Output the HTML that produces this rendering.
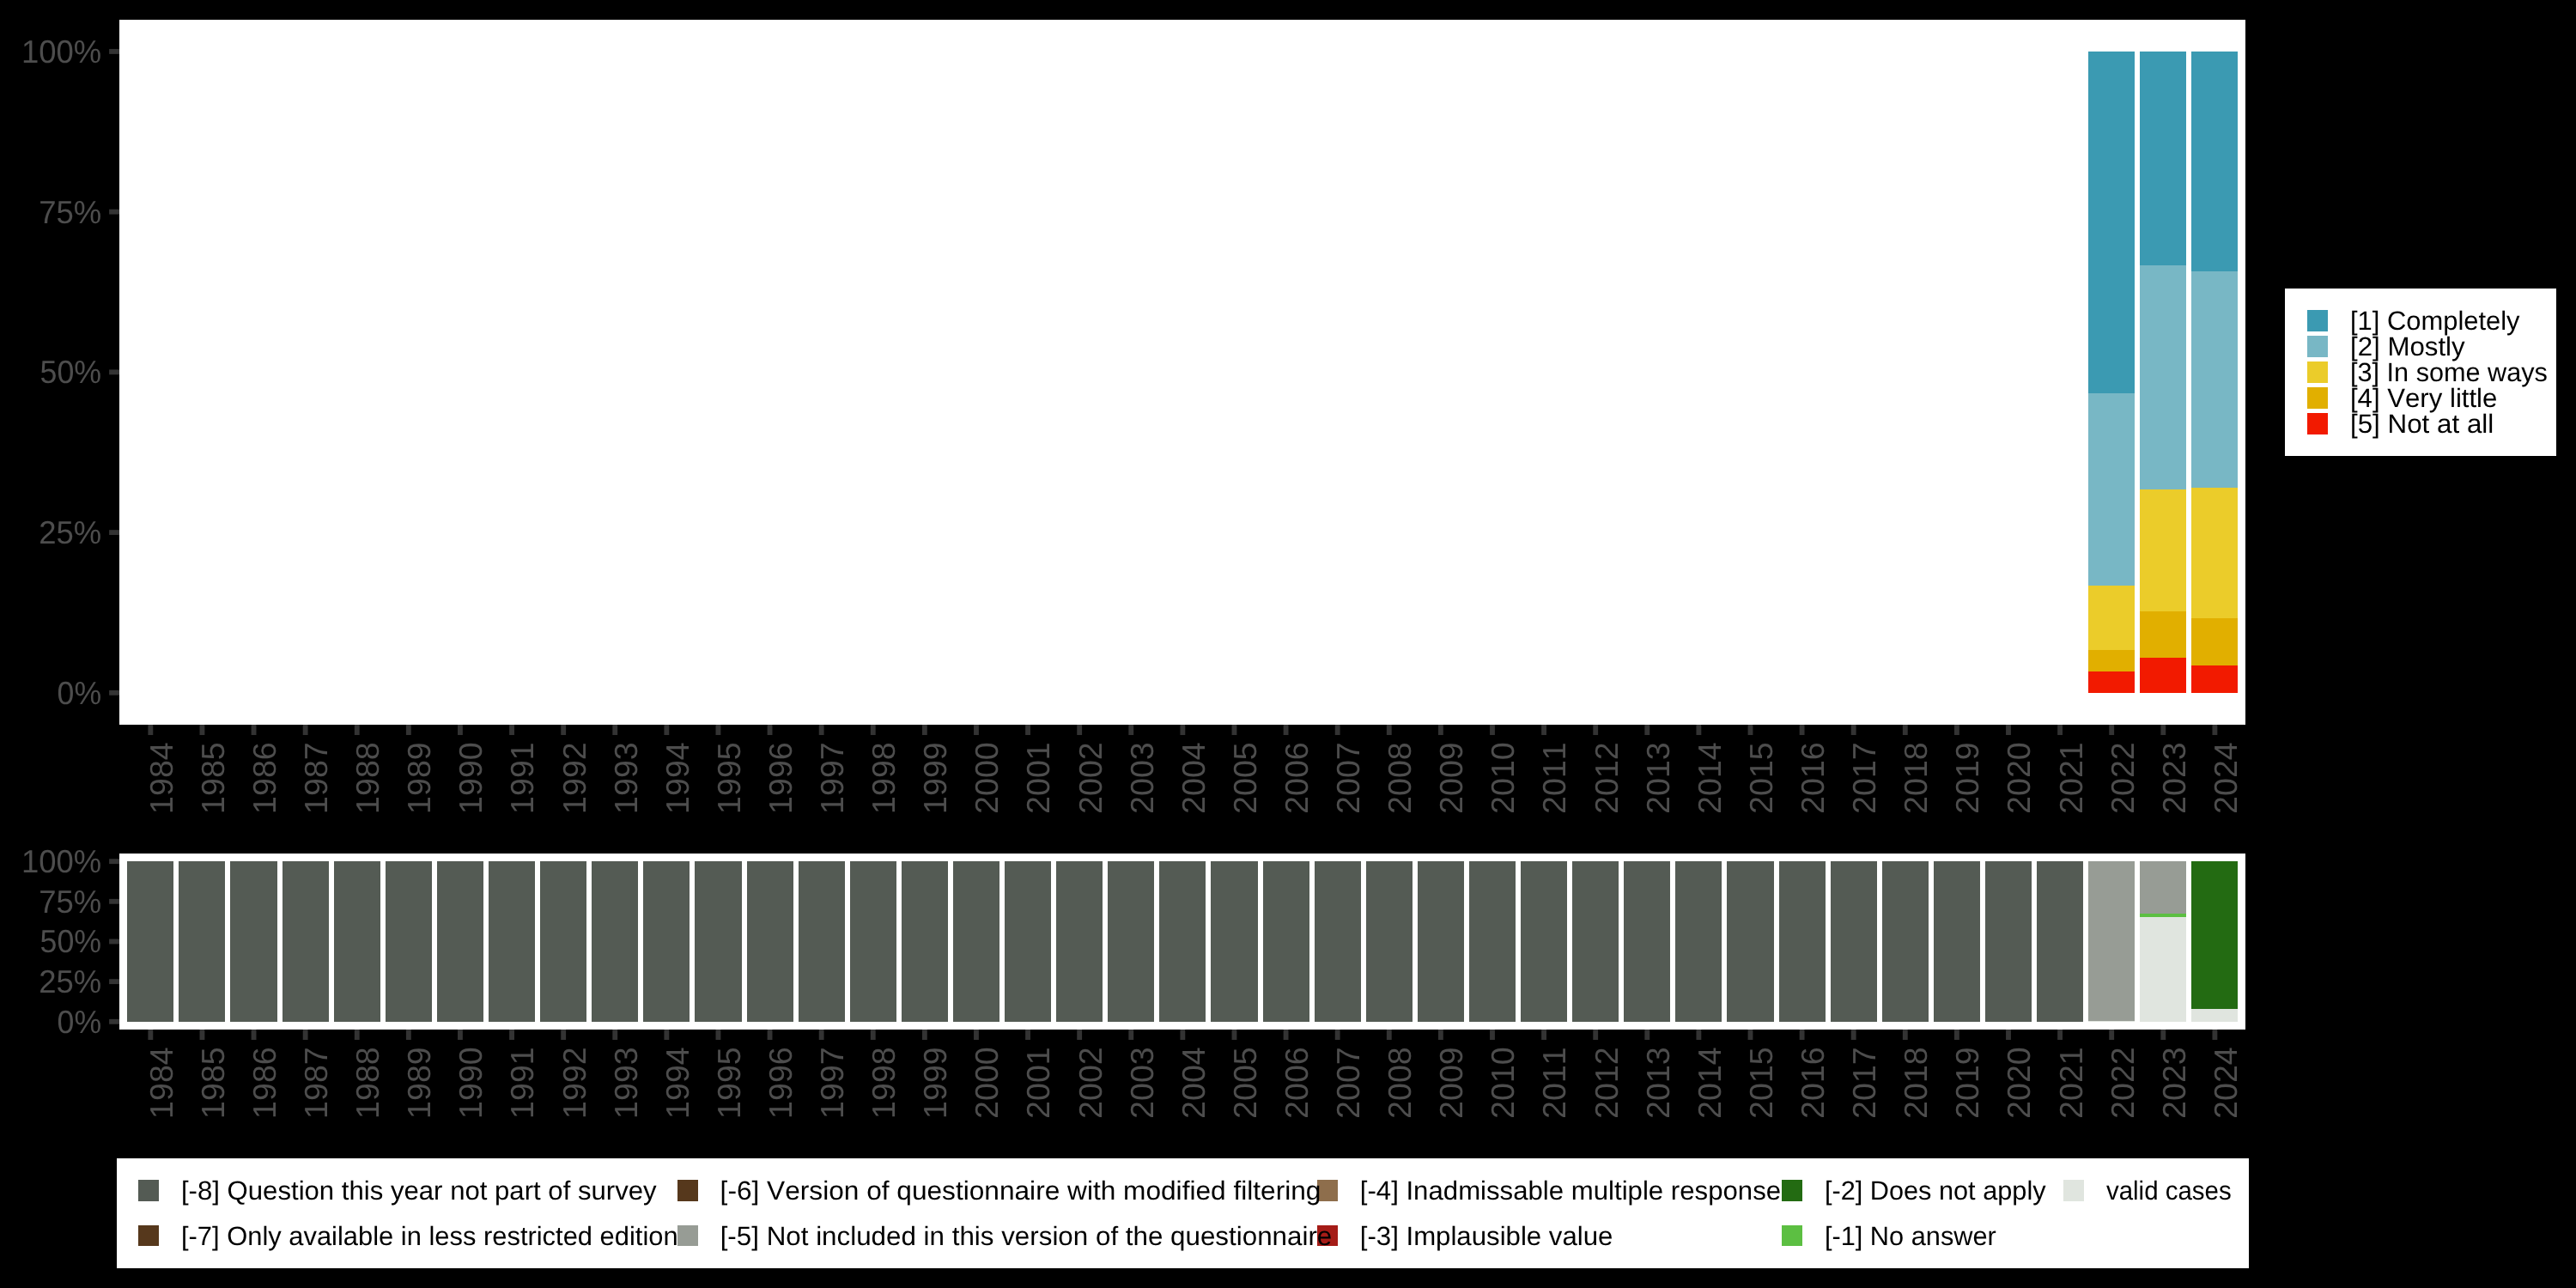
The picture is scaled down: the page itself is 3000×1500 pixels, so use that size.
<!DOCTYPE html><html><head><meta charset="utf-8"><style>html,body{margin:0;padding:0;background:#000;width:3000px;height:1500px;overflow:hidden}svg{display:block;will-change:transform}text{font-family:"Liberation Sans",sans-serif;font-kerning:none;white-space:pre;text-rendering:geometricPrecision}</style></head><body>
<svg width="3000" height="1500" viewBox="0 0 3000 1500">
<rect x="0" y="0" width="3000" height="1500" fill="#000"/>
<rect x="139.0" y="23.0" width="2476.00" height="821.00" fill="#fff"/>
<rect x="2432" y="60" width="54" height="398" fill="#3B9AB2"/>
<rect x="2432" y="458" width="54" height="224" fill="#78B7C5"/>
<rect x="2432" y="682" width="54" height="75" fill="#EBCC2A"/>
<rect x="2432" y="757" width="54" height="25" fill="#E1AF00"/>
<rect x="2432" y="782" width="54" height="25" fill="#F21A00"/>
<rect x="2492" y="60" width="54" height="249" fill="#3B9AB2"/>
<rect x="2492" y="309" width="54" height="261" fill="#78B7C5"/>
<rect x="2492" y="570" width="54" height="142" fill="#EBCC2A"/>
<rect x="2492" y="712" width="54" height="54" fill="#E1AF00"/>
<rect x="2492" y="766" width="54" height="41" fill="#F21A00"/>
<rect x="2552" y="60" width="54" height="256" fill="#3B9AB2"/>
<rect x="2552" y="316" width="54" height="252" fill="#78B7C5"/>
<rect x="2552" y="568" width="54" height="152" fill="#EBCC2A"/>
<rect x="2552" y="720" width="54" height="55" fill="#E1AF00"/>
<rect x="2552" y="775" width="54" height="32" fill="#F21A00"/>
<rect x="127.1" y="803.88" width="11.90" height="5.85" fill="#333333"/>
<text x="66.61" y="819.80" font-size="37.6" fill="#4D4D4D" textLength="51.57" lengthAdjust="spacingAndGlyphs">0%</text>
<rect x="127.1" y="617.16" width="11.90" height="5.85" fill="#333333"/>
<text x="45.16" y="633.09" font-size="37.6" fill="#4D4D4D" textLength="73.04" lengthAdjust="spacingAndGlyphs">25%</text>
<rect x="127.1" y="430.45" width="11.90" height="5.85" fill="#333333"/>
<text x="46.57" y="446.38" font-size="37.6" fill="#4D4D4D" textLength="71.61" lengthAdjust="spacingAndGlyphs">50%</text>
<rect x="127.1" y="243.74" width="11.90" height="5.85" fill="#333333"/>
<text x="45.13" y="259.66" font-size="37.6" fill="#4D4D4D" textLength="73.07" lengthAdjust="spacingAndGlyphs">75%</text>
<rect x="127.1" y="57.03" width="11.90" height="5.85" fill="#333333"/>
<text x="25.03" y="72.95" font-size="37.6" fill="#4D4D4D" textLength="93.17" lengthAdjust="spacingAndGlyphs">100%</text>
<rect x="172.41" y="844.00" width="5.85" height="12" fill="#333333"/>
<text transform="translate(200.74,864.30) rotate(-90)" text-anchor="end" font-size="37.6" fill="#4D4D4D">1984</text>
<rect x="232.52" y="844.00" width="5.85" height="12" fill="#333333"/>
<text transform="translate(260.84,864.30) rotate(-90)" text-anchor="end" font-size="37.6" fill="#4D4D4D">1985</text>
<rect x="292.62" y="844.00" width="5.85" height="12" fill="#333333"/>
<text transform="translate(320.94,864.30) rotate(-90)" text-anchor="end" font-size="37.6" fill="#4D4D4D">1986</text>
<rect x="352.72" y="844.00" width="5.85" height="12" fill="#333333"/>
<text transform="translate(381.04,864.30) rotate(-90)" text-anchor="end" font-size="37.6" fill="#4D4D4D">1987</text>
<rect x="412.82" y="844.00" width="5.85" height="12" fill="#333333"/>
<text transform="translate(441.15,864.30) rotate(-90)" text-anchor="end" font-size="37.6" fill="#4D4D4D">1988</text>
<rect x="472.92" y="844.00" width="5.85" height="12" fill="#333333"/>
<text transform="translate(501.25,864.30) rotate(-90)" text-anchor="end" font-size="37.6" fill="#4D4D4D">1989</text>
<rect x="533.02" y="844.00" width="5.85" height="12" fill="#333333"/>
<text transform="translate(561.35,864.30) rotate(-90)" text-anchor="end" font-size="37.6" fill="#4D4D4D">1990</text>
<rect x="593.13" y="844.00" width="5.85" height="12" fill="#333333"/>
<text transform="translate(621.45,864.30) rotate(-90)" text-anchor="end" font-size="37.6" fill="#4D4D4D">1991</text>
<rect x="653.23" y="844.00" width="5.85" height="12" fill="#333333"/>
<text transform="translate(681.55,864.30) rotate(-90)" text-anchor="end" font-size="37.6" fill="#4D4D4D">1992</text>
<rect x="713.33" y="844.00" width="5.85" height="12" fill="#333333"/>
<text transform="translate(741.65,864.30) rotate(-90)" text-anchor="end" font-size="37.6" fill="#4D4D4D">1993</text>
<rect x="773.43" y="844.00" width="5.85" height="12" fill="#333333"/>
<text transform="translate(801.75,864.30) rotate(-90)" text-anchor="end" font-size="37.6" fill="#4D4D4D">1994</text>
<rect x="833.53" y="844.00" width="5.85" height="12" fill="#333333"/>
<text transform="translate(861.86,864.30) rotate(-90)" text-anchor="end" font-size="37.6" fill="#4D4D4D">1995</text>
<rect x="893.63" y="844.00" width="5.85" height="12" fill="#333333"/>
<text transform="translate(921.96,864.30) rotate(-90)" text-anchor="end" font-size="37.6" fill="#4D4D4D">1996</text>
<rect x="953.73" y="844.00" width="5.85" height="12" fill="#333333"/>
<text transform="translate(982.06,864.30) rotate(-90)" text-anchor="end" font-size="37.6" fill="#4D4D4D">1997</text>
<rect x="1013.84" y="844.00" width="5.85" height="12" fill="#333333"/>
<text transform="translate(1042.16,864.30) rotate(-90)" text-anchor="end" font-size="37.6" fill="#4D4D4D">1998</text>
<rect x="1073.94" y="844.00" width="5.85" height="12" fill="#333333"/>
<text transform="translate(1102.26,864.30) rotate(-90)" text-anchor="end" font-size="37.6" fill="#4D4D4D">1999</text>
<rect x="1134.04" y="844.00" width="5.85" height="12" fill="#333333"/>
<text transform="translate(1162.36,864.30) rotate(-90)" text-anchor="end" font-size="37.6" fill="#4D4D4D">2000</text>
<rect x="1194.14" y="844.00" width="5.85" height="12" fill="#333333"/>
<text transform="translate(1222.47,864.30) rotate(-90)" text-anchor="end" font-size="37.6" fill="#4D4D4D">2001</text>
<rect x="1254.24" y="844.00" width="5.85" height="12" fill="#333333"/>
<text transform="translate(1282.57,864.30) rotate(-90)" text-anchor="end" font-size="37.6" fill="#4D4D4D">2002</text>
<rect x="1314.34" y="844.00" width="5.85" height="12" fill="#333333"/>
<text transform="translate(1342.67,864.30) rotate(-90)" text-anchor="end" font-size="37.6" fill="#4D4D4D">2003</text>
<rect x="1374.44" y="844.00" width="5.85" height="12" fill="#333333"/>
<text transform="translate(1402.77,864.30) rotate(-90)" text-anchor="end" font-size="37.6" fill="#4D4D4D">2004</text>
<rect x="1434.55" y="844.00" width="5.85" height="12" fill="#333333"/>
<text transform="translate(1462.87,864.30) rotate(-90)" text-anchor="end" font-size="37.6" fill="#4D4D4D">2005</text>
<rect x="1494.65" y="844.00" width="5.85" height="12" fill="#333333"/>
<text transform="translate(1522.97,864.30) rotate(-90)" text-anchor="end" font-size="37.6" fill="#4D4D4D">2006</text>
<rect x="1554.75" y="844.00" width="5.85" height="12" fill="#333333"/>
<text transform="translate(1583.07,864.30) rotate(-90)" text-anchor="end" font-size="37.6" fill="#4D4D4D">2007</text>
<rect x="1614.85" y="844.00" width="5.85" height="12" fill="#333333"/>
<text transform="translate(1643.18,864.30) rotate(-90)" text-anchor="end" font-size="37.6" fill="#4D4D4D">2008</text>
<rect x="1674.95" y="844.00" width="5.85" height="12" fill="#333333"/>
<text transform="translate(1703.28,864.30) rotate(-90)" text-anchor="end" font-size="37.6" fill="#4D4D4D">2009</text>
<rect x="1735.05" y="844.00" width="5.85" height="12" fill="#333333"/>
<text transform="translate(1763.38,864.30) rotate(-90)" text-anchor="end" font-size="37.6" fill="#4D4D4D">2010</text>
<rect x="1795.16" y="844.00" width="5.85" height="12" fill="#333333"/>
<text transform="translate(1823.48,864.30) rotate(-90)" text-anchor="end" font-size="37.6" fill="#4D4D4D">2011</text>
<rect x="1855.26" y="844.00" width="5.85" height="12" fill="#333333"/>
<text transform="translate(1883.58,864.30) rotate(-90)" text-anchor="end" font-size="37.6" fill="#4D4D4D">2012</text>
<rect x="1915.36" y="844.00" width="5.85" height="12" fill="#333333"/>
<text transform="translate(1943.68,864.30) rotate(-90)" text-anchor="end" font-size="37.6" fill="#4D4D4D">2013</text>
<rect x="1975.46" y="844.00" width="5.85" height="12" fill="#333333"/>
<text transform="translate(2003.79,864.30) rotate(-90)" text-anchor="end" font-size="37.6" fill="#4D4D4D">2014</text>
<rect x="2035.56" y="844.00" width="5.85" height="12" fill="#333333"/>
<text transform="translate(2063.89,864.30) rotate(-90)" text-anchor="end" font-size="37.6" fill="#4D4D4D">2015</text>
<rect x="2095.66" y="844.00" width="5.85" height="12" fill="#333333"/>
<text transform="translate(2123.99,864.30) rotate(-90)" text-anchor="end" font-size="37.6" fill="#4D4D4D">2016</text>
<rect x="2155.76" y="844.00" width="5.85" height="12" fill="#333333"/>
<text transform="translate(2184.09,864.30) rotate(-90)" text-anchor="end" font-size="37.6" fill="#4D4D4D">2017</text>
<rect x="2215.87" y="844.00" width="5.85" height="12" fill="#333333"/>
<text transform="translate(2244.19,864.30) rotate(-90)" text-anchor="end" font-size="37.6" fill="#4D4D4D">2018</text>
<rect x="2275.97" y="844.00" width="5.85" height="12" fill="#333333"/>
<text transform="translate(2304.29,864.30) rotate(-90)" text-anchor="end" font-size="37.6" fill="#4D4D4D">2019</text>
<rect x="2336.07" y="844.00" width="5.85" height="12" fill="#333333"/>
<text transform="translate(2364.39,864.30) rotate(-90)" text-anchor="end" font-size="37.6" fill="#4D4D4D">2020</text>
<rect x="2396.17" y="844.00" width="5.85" height="12" fill="#333333"/>
<text transform="translate(2424.50,864.30) rotate(-90)" text-anchor="end" font-size="37.6" fill="#4D4D4D">2021</text>
<rect x="2456.27" y="844.00" width="5.85" height="12" fill="#333333"/>
<text transform="translate(2484.60,864.30) rotate(-90)" text-anchor="end" font-size="37.6" fill="#4D4D4D">2022</text>
<rect x="2516.37" y="844.00" width="5.85" height="12" fill="#333333"/>
<text transform="translate(2544.70,864.30) rotate(-90)" text-anchor="end" font-size="37.6" fill="#4D4D4D">2023</text>
<rect x="2576.47" y="844.00" width="5.85" height="12" fill="#333333"/>
<text transform="translate(2604.80,864.30) rotate(-90)" text-anchor="end" font-size="37.6" fill="#4D4D4D">2024</text>
<rect x="139.0" y="994.0" width="2476.00" height="205.00" fill="#fff"/>
<rect x="148" y="1003" width="54" height="187" fill="#545B54"/>
<rect x="208" y="1003" width="54" height="187" fill="#545B54"/>
<rect x="268" y="1003" width="55" height="187" fill="#545B54"/>
<rect x="329" y="1003" width="54" height="187" fill="#545B54"/>
<rect x="389" y="1003" width="54" height="187" fill="#545B54"/>
<rect x="449" y="1003" width="54" height="187" fill="#545B54"/>
<rect x="509" y="1003" width="54" height="187" fill="#545B54"/>
<rect x="569" y="1003" width="54" height="187" fill="#545B54"/>
<rect x="629" y="1003" width="54" height="187" fill="#545B54"/>
<rect x="689" y="1003" width="54" height="187" fill="#545B54"/>
<rect x="749" y="1003" width="54" height="187" fill="#545B54"/>
<rect x="809" y="1003" width="55" height="187" fill="#545B54"/>
<rect x="870" y="1003" width="54" height="187" fill="#545B54"/>
<rect x="930" y="1003" width="54" height="187" fill="#545B54"/>
<rect x="990" y="1003" width="54" height="187" fill="#545B54"/>
<rect x="1050" y="1003" width="54" height="187" fill="#545B54"/>
<rect x="1110" y="1003" width="54" height="187" fill="#545B54"/>
<rect x="1170" y="1003" width="54" height="187" fill="#545B54"/>
<rect x="1230" y="1003" width="54" height="187" fill="#545B54"/>
<rect x="1290" y="1003" width="54" height="187" fill="#545B54"/>
<rect x="1350" y="1003" width="54" height="187" fill="#545B54"/>
<rect x="1410" y="1003" width="55" height="187" fill="#545B54"/>
<rect x="1471" y="1003" width="54" height="187" fill="#545B54"/>
<rect x="1531" y="1003" width="54" height="187" fill="#545B54"/>
<rect x="1591" y="1003" width="54" height="187" fill="#545B54"/>
<rect x="1651" y="1003" width="54" height="187" fill="#545B54"/>
<rect x="1711" y="1003" width="54" height="187" fill="#545B54"/>
<rect x="1771" y="1003" width="54" height="187" fill="#545B54"/>
<rect x="1831" y="1003" width="54" height="187" fill="#545B54"/>
<rect x="1891" y="1003" width="54" height="187" fill="#545B54"/>
<rect x="1951" y="1003" width="54" height="187" fill="#545B54"/>
<rect x="2011" y="1003" width="55" height="187" fill="#545B54"/>
<rect x="2072" y="1003" width="54" height="187" fill="#545B54"/>
<rect x="2132" y="1003" width="54" height="187" fill="#545B54"/>
<rect x="2192" y="1003" width="54" height="187" fill="#545B54"/>
<rect x="2252" y="1003" width="54" height="187" fill="#545B54"/>
<rect x="2312" y="1003" width="54" height="187" fill="#545B54"/>
<rect x="2372" y="1003" width="54" height="187" fill="#545B54"/>
<rect x="2432" y="1003" width="54" height="186" fill="#979C95"/>
<rect x="2432" y="1189" width="54" height="1" fill="#E0E5DF"/>
<rect x="2492" y="1003" width="54" height="61" fill="#979C95"/>
<rect x="2492" y="1064" width="54" height="4" fill="#5CBF42"/>
<rect x="2492" y="1068" width="54" height="122" fill="#E0E5DF"/>
<rect x="2552" y="1003" width="54" height="172" fill="#236B12"/>
<rect x="2552" y="1175" width="54" height="15" fill="#E0E5DF"/>
<rect x="127.1" y="1186.88" width="11.90" height="5.85" fill="#333333"/>
<text x="66.61" y="1202.80" font-size="37.6" fill="#4D4D4D" textLength="51.57" lengthAdjust="spacingAndGlyphs">0%</text>
<rect x="127.1" y="1140.22" width="11.90" height="5.85" fill="#333333"/>
<text x="45.16" y="1156.14" font-size="37.6" fill="#4D4D4D" textLength="73.04" lengthAdjust="spacingAndGlyphs">25%</text>
<rect x="127.1" y="1093.56" width="11.90" height="5.85" fill="#333333"/>
<text x="46.57" y="1109.48" font-size="37.6" fill="#4D4D4D" textLength="71.61" lengthAdjust="spacingAndGlyphs">50%</text>
<rect x="127.1" y="1046.90" width="11.90" height="5.85" fill="#333333"/>
<text x="45.13" y="1062.83" font-size="37.6" fill="#4D4D4D" textLength="73.07" lengthAdjust="spacingAndGlyphs">75%</text>
<rect x="127.1" y="1000.25" width="11.90" height="5.85" fill="#333333"/>
<text x="25.03" y="1016.17" font-size="37.6" fill="#4D4D4D" textLength="93.17" lengthAdjust="spacingAndGlyphs">100%</text>
<rect x="172.41" y="1199.00" width="5.85" height="12" fill="#333333"/>
<text transform="translate(200.74,1219.30) rotate(-90)" text-anchor="end" font-size="37.6" fill="#4D4D4D">1984</text>
<rect x="232.52" y="1199.00" width="5.85" height="12" fill="#333333"/>
<text transform="translate(260.84,1219.30) rotate(-90)" text-anchor="end" font-size="37.6" fill="#4D4D4D">1985</text>
<rect x="292.62" y="1199.00" width="5.85" height="12" fill="#333333"/>
<text transform="translate(320.94,1219.30) rotate(-90)" text-anchor="end" font-size="37.6" fill="#4D4D4D">1986</text>
<rect x="352.72" y="1199.00" width="5.85" height="12" fill="#333333"/>
<text transform="translate(381.04,1219.30) rotate(-90)" text-anchor="end" font-size="37.6" fill="#4D4D4D">1987</text>
<rect x="412.82" y="1199.00" width="5.85" height="12" fill="#333333"/>
<text transform="translate(441.15,1219.30) rotate(-90)" text-anchor="end" font-size="37.6" fill="#4D4D4D">1988</text>
<rect x="472.92" y="1199.00" width="5.85" height="12" fill="#333333"/>
<text transform="translate(501.25,1219.30) rotate(-90)" text-anchor="end" font-size="37.6" fill="#4D4D4D">1989</text>
<rect x="533.02" y="1199.00" width="5.85" height="12" fill="#333333"/>
<text transform="translate(561.35,1219.30) rotate(-90)" text-anchor="end" font-size="37.6" fill="#4D4D4D">1990</text>
<rect x="593.13" y="1199.00" width="5.85" height="12" fill="#333333"/>
<text transform="translate(621.45,1219.30) rotate(-90)" text-anchor="end" font-size="37.6" fill="#4D4D4D">1991</text>
<rect x="653.23" y="1199.00" width="5.85" height="12" fill="#333333"/>
<text transform="translate(681.55,1219.30) rotate(-90)" text-anchor="end" font-size="37.6" fill="#4D4D4D">1992</text>
<rect x="713.33" y="1199.00" width="5.85" height="12" fill="#333333"/>
<text transform="translate(741.65,1219.30) rotate(-90)" text-anchor="end" font-size="37.6" fill="#4D4D4D">1993</text>
<rect x="773.43" y="1199.00" width="5.85" height="12" fill="#333333"/>
<text transform="translate(801.75,1219.30) rotate(-90)" text-anchor="end" font-size="37.6" fill="#4D4D4D">1994</text>
<rect x="833.53" y="1199.00" width="5.85" height="12" fill="#333333"/>
<text transform="translate(861.86,1219.30) rotate(-90)" text-anchor="end" font-size="37.6" fill="#4D4D4D">1995</text>
<rect x="893.63" y="1199.00" width="5.85" height="12" fill="#333333"/>
<text transform="translate(921.96,1219.30) rotate(-90)" text-anchor="end" font-size="37.6" fill="#4D4D4D">1996</text>
<rect x="953.73" y="1199.00" width="5.85" height="12" fill="#333333"/>
<text transform="translate(982.06,1219.30) rotate(-90)" text-anchor="end" font-size="37.6" fill="#4D4D4D">1997</text>
<rect x="1013.84" y="1199.00" width="5.85" height="12" fill="#333333"/>
<text transform="translate(1042.16,1219.30) rotate(-90)" text-anchor="end" font-size="37.6" fill="#4D4D4D">1998</text>
<rect x="1073.94" y="1199.00" width="5.85" height="12" fill="#333333"/>
<text transform="translate(1102.26,1219.30) rotate(-90)" text-anchor="end" font-size="37.6" fill="#4D4D4D">1999</text>
<rect x="1134.04" y="1199.00" width="5.85" height="12" fill="#333333"/>
<text transform="translate(1162.36,1219.30) rotate(-90)" text-anchor="end" font-size="37.6" fill="#4D4D4D">2000</text>
<rect x="1194.14" y="1199.00" width="5.85" height="12" fill="#333333"/>
<text transform="translate(1222.47,1219.30) rotate(-90)" text-anchor="end" font-size="37.6" fill="#4D4D4D">2001</text>
<rect x="1254.24" y="1199.00" width="5.85" height="12" fill="#333333"/>
<text transform="translate(1282.57,1219.30) rotate(-90)" text-anchor="end" font-size="37.6" fill="#4D4D4D">2002</text>
<rect x="1314.34" y="1199.00" width="5.85" height="12" fill="#333333"/>
<text transform="translate(1342.67,1219.30) rotate(-90)" text-anchor="end" font-size="37.6" fill="#4D4D4D">2003</text>
<rect x="1374.44" y="1199.00" width="5.85" height="12" fill="#333333"/>
<text transform="translate(1402.77,1219.30) rotate(-90)" text-anchor="end" font-size="37.6" fill="#4D4D4D">2004</text>
<rect x="1434.55" y="1199.00" width="5.85" height="12" fill="#333333"/>
<text transform="translate(1462.87,1219.30) rotate(-90)" text-anchor="end" font-size="37.6" fill="#4D4D4D">2005</text>
<rect x="1494.65" y="1199.00" width="5.85" height="12" fill="#333333"/>
<text transform="translate(1522.97,1219.30) rotate(-90)" text-anchor="end" font-size="37.6" fill="#4D4D4D">2006</text>
<rect x="1554.75" y="1199.00" width="5.85" height="12" fill="#333333"/>
<text transform="translate(1583.07,1219.30) rotate(-90)" text-anchor="end" font-size="37.6" fill="#4D4D4D">2007</text>
<rect x="1614.85" y="1199.00" width="5.85" height="12" fill="#333333"/>
<text transform="translate(1643.18,1219.30) rotate(-90)" text-anchor="end" font-size="37.6" fill="#4D4D4D">2008</text>
<rect x="1674.95" y="1199.00" width="5.85" height="12" fill="#333333"/>
<text transform="translate(1703.28,1219.30) rotate(-90)" text-anchor="end" font-size="37.6" fill="#4D4D4D">2009</text>
<rect x="1735.05" y="1199.00" width="5.85" height="12" fill="#333333"/>
<text transform="translate(1763.38,1219.30) rotate(-90)" text-anchor="end" font-size="37.6" fill="#4D4D4D">2010</text>
<rect x="1795.16" y="1199.00" width="5.85" height="12" fill="#333333"/>
<text transform="translate(1823.48,1219.30) rotate(-90)" text-anchor="end" font-size="37.6" fill="#4D4D4D">2011</text>
<rect x="1855.26" y="1199.00" width="5.85" height="12" fill="#333333"/>
<text transform="translate(1883.58,1219.30) rotate(-90)" text-anchor="end" font-size="37.6" fill="#4D4D4D">2012</text>
<rect x="1915.36" y="1199.00" width="5.85" height="12" fill="#333333"/>
<text transform="translate(1943.68,1219.30) rotate(-90)" text-anchor="end" font-size="37.6" fill="#4D4D4D">2013</text>
<rect x="1975.46" y="1199.00" width="5.85" height="12" fill="#333333"/>
<text transform="translate(2003.79,1219.30) rotate(-90)" text-anchor="end" font-size="37.6" fill="#4D4D4D">2014</text>
<rect x="2035.56" y="1199.00" width="5.85" height="12" fill="#333333"/>
<text transform="translate(2063.89,1219.30) rotate(-90)" text-anchor="end" font-size="37.6" fill="#4D4D4D">2015</text>
<rect x="2095.66" y="1199.00" width="5.85" height="12" fill="#333333"/>
<text transform="translate(2123.99,1219.30) rotate(-90)" text-anchor="end" font-size="37.6" fill="#4D4D4D">2016</text>
<rect x="2155.76" y="1199.00" width="5.85" height="12" fill="#333333"/>
<text transform="translate(2184.09,1219.30) rotate(-90)" text-anchor="end" font-size="37.6" fill="#4D4D4D">2017</text>
<rect x="2215.87" y="1199.00" width="5.85" height="12" fill="#333333"/>
<text transform="translate(2244.19,1219.30) rotate(-90)" text-anchor="end" font-size="37.6" fill="#4D4D4D">2018</text>
<rect x="2275.97" y="1199.00" width="5.85" height="12" fill="#333333"/>
<text transform="translate(2304.29,1219.30) rotate(-90)" text-anchor="end" font-size="37.6" fill="#4D4D4D">2019</text>
<rect x="2336.07" y="1199.00" width="5.85" height="12" fill="#333333"/>
<text transform="translate(2364.39,1219.30) rotate(-90)" text-anchor="end" font-size="37.6" fill="#4D4D4D">2020</text>
<rect x="2396.17" y="1199.00" width="5.85" height="12" fill="#333333"/>
<text transform="translate(2424.50,1219.30) rotate(-90)" text-anchor="end" font-size="37.6" fill="#4D4D4D">2021</text>
<rect x="2456.27" y="1199.00" width="5.85" height="12" fill="#333333"/>
<text transform="translate(2484.60,1219.30) rotate(-90)" text-anchor="end" font-size="37.6" fill="#4D4D4D">2022</text>
<rect x="2516.37" y="1199.00" width="5.85" height="12" fill="#333333"/>
<text transform="translate(2544.70,1219.30) rotate(-90)" text-anchor="end" font-size="37.6" fill="#4D4D4D">2023</text>
<rect x="2576.47" y="1199.00" width="5.85" height="12" fill="#333333"/>
<text transform="translate(2604.80,1219.30) rotate(-90)" text-anchor="end" font-size="37.6" fill="#4D4D4D">2024</text>
<rect x="2661" y="336" width="316" height="195" fill="#fff"/>
<rect x="2687" y="361" width="24" height="25" fill="#3B9AB2"/>
<rect x="2687" y="391" width="24" height="25" fill="#78B7C5"/>
<rect x="2687" y="421" width="24" height="25" fill="#EBCC2A"/>
<rect x="2687" y="451" width="24" height="25" fill="#E1AF00"/>
<rect x="2687" y="481" width="24" height="25" fill="#F21A00"/>
<text x="2737.00" y="383.80" font-size="30.8" fill="#000" textLength="197.56" lengthAdjust="spacingAndGlyphs">[1] Completely</text>
<text x="2736.97" y="413.80" font-size="30.8" fill="#000" textLength="133.69" lengthAdjust="spacingAndGlyphs">[2] Mostly</text>
<text x="2737.02" y="443.80" font-size="30.8" fill="#000" textLength="229.89" lengthAdjust="spacingAndGlyphs">[3] In some ways</text>
<text x="2736.98" y="473.80" font-size="30.8" fill="#000" textLength="171.41" lengthAdjust="spacingAndGlyphs">[4] Very little</text>
<text x="2736.96" y="503.80" font-size="30.8" fill="#000" textLength="167.33" lengthAdjust="spacingAndGlyphs">[5] Not at all</text>
<rect x="136" y="1349" width="2483" height="128" fill="#fff"/>
<rect x="161" y="1374" width="24" height="25" fill="#545B54"/>
<rect x="161" y="1427" width="24" height="24" fill="#56381C"/>
<rect x="789" y="1374" width="24" height="25" fill="#56381C"/>
<rect x="789" y="1427" width="24" height="24" fill="#979C95"/>
<rect x="1534" y="1374" width="24" height="25" fill="#8E6E4C"/>
<rect x="1534" y="1427" width="24" height="24" fill="#A51C17"/>
<rect x="2075" y="1374" width="24" height="25" fill="#236B12"/>
<rect x="2075" y="1427" width="24" height="24" fill="#5CBF42"/>
<rect x="2403" y="1374" width="24" height="25" fill="#E0E5DF"/>
<text x="210.98" y="1396.90" font-size="30.8" fill="#000" textLength="553.68" lengthAdjust="spacingAndGlyphs">[-8] Question this year not part of survey</text>
<text x="211.00" y="1449.90" font-size="30.8" fill="#000" textLength="578.61" lengthAdjust="spacingAndGlyphs">[-7] Only available in less restricted edition</text>
<text x="838.64" y="1396.90" font-size="30.8" fill="#000" textLength="699.79" lengthAdjust="spacingAndGlyphs">[-6] Version of questionnaire with modified filtering</text>
<text x="838.67" y="1449.90" font-size="30.8" fill="#000" textLength="712.63" lengthAdjust="spacingAndGlyphs">[-5] Not included in this version of the questionnaire</text>
<text x="1583.78" y="1396.90" font-size="30.8" fill="#000" textLength="490.31" lengthAdjust="spacingAndGlyphs">[-4] Inadmissable multiple response</text>
<text x="1583.78" y="1449.90" font-size="30.8" fill="#000" textLength="294.61" lengthAdjust="spacingAndGlyphs">[-3] Implausible value</text>
<text x="2124.91" y="1396.90" font-size="30.8" fill="#000" textLength="257.65" lengthAdjust="spacingAndGlyphs">[-2] Does not apply</text>
<text x="2124.91" y="1449.90" font-size="30.8" fill="#000" textLength="199.90" lengthAdjust="spacingAndGlyphs">[-1] No answer</text>
<text x="2452.90" y="1396.90" font-size="30.8" fill="#000" textLength="145.87" lengthAdjust="spacingAndGlyphs">valid cases</text>
</svg></body></html>
